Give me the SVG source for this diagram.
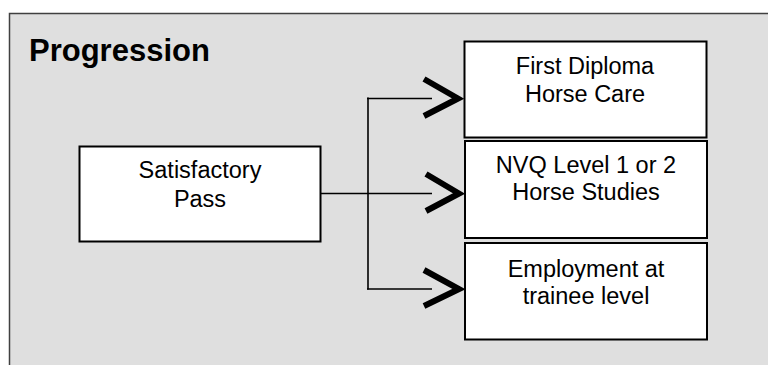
<svg xmlns="http://www.w3.org/2000/svg" width="768" height="365" viewBox="0 0 768 365">
  <style>
    .box { fill: #ffffff; stroke: #000000; stroke-width: 2; }
    .t { font-family: "Liberation Sans", Arial, sans-serif; font-size: 23.5px; fill: #000000; text-anchor: middle; }
    .title { font-family: "Liberation Sans", Arial, sans-serif; font-size: 31px; font-weight: bold; fill: #000000; }
    .ln { fill: none; stroke: #000000; stroke-width: 1.6; }
    .chev { fill: none; stroke: #000000; stroke-width: 6; stroke-linejoin: miter; stroke-miterlimit: 10; }
  </style>
  <rect x="0" y="0" width="768" height="365" fill="#ffffff"/>
  <g id="panel">
    <rect x="9.5" y="13.5" width="770" height="370" fill="#dfdfdf" stroke="#404040" stroke-width="1.5"/>
    <text class="title" x="29" y="61">Progression</text>
  </g>
  <g id="connectors">
    <line class="ln" x1="320" y1="193.5" x2="432" y2="193.5" stroke-width="2"/>
    <line class="ln" x1="368" y1="97.5" x2="368" y2="289.5" stroke-width="1.8"/>
    <line class="ln" x1="367" y1="98.5" x2="432" y2="98.5"/>
    <line class="ln" x1="367" y1="289" x2="432" y2="289"/>
    <polyline class="chev" points="424,79 458,98.5 424,116"/>
    <polyline class="chev" points="426,174 459,193.5 426,211"/>
    <polyline class="chev" points="424,270 459,289 424,306"/>
  </g>
  <g id="node-satisfactory">
    <rect class="box" x="79.5" y="146.5" width="241" height="95"/>
    <text class="t" x="200" y="178">Satisfactory</text>
    <text class="t" x="200" y="207">Pass</text>
  </g>
  <g id="node-first-diploma">
    <rect class="box" x="464.5" y="41.5" width="242" height="96"/>
    <text class="t" x="585" y="74">First Diploma</text>
    <text class="t" x="585" y="102">Horse Care</text>
  </g>
  <g id="node-nvq">
    <rect class="box" x="465" y="141" width="242" height="97"/>
    <text class="t" x="586" y="173">NVQ Level 1 or 2</text>
    <text class="t" x="586" y="200">Horse Studies</text>
  </g>
  <g id="node-employment">
    <rect class="box" x="465" y="243" width="242" height="96.5"/>
    <text class="t" x="586" y="277">Employment at</text>
    <text class="t" x="586" y="303.5">trainee level</text>
  </g>
</svg>
